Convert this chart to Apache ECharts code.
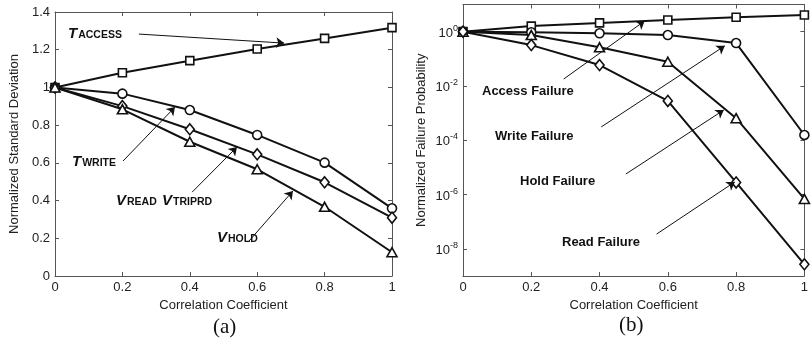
<!DOCTYPE html>
<html>
<head>
<meta charset="utf-8">
<script src="https://cdn.jsdelivr.net/npm/echarts@6/dist/echarts.min.js"></script>
<style>
  html, body { margin: 0; padding: 0; background: #fff; }
  #chart { width: 811px; height: 350px; }
</style>
</head>
<body>
<div id="chart"></div>
<script>
// Correlation coefficient sweep shared by both panels
const rho = [0, 0.2, 0.4, 0.6, 0.8, 1];

// Panel (a): normalized standard deviation
const tAccess = [1.0, 1.078, 1.142, 1.204, 1.260, 1.317];
const tWrite  = [1.0, 0.967, 0.880, 0.748, 0.601, 0.359];
const vTriprd = [1.0, 0.901, 0.778, 0.645, 0.497, 0.309];
const vHold   = [1.0, 0.884, 0.712, 0.566, 0.367, 0.126];

// Panel (b): normalized failure probability
const accessFail = [1.0, 1.6, 2.1, 2.7, 3.4, 4.1];
const writeFail  = [1.0, 0.95, 0.87, 0.75, 0.38, 1.56e-4];
const holdFail   = [1.0, 0.75, 0.265, 0.078, 6.5e-4, 6.9e-7];
const readFail   = [1.0, 0.32, 0.059, 2.8e-3, 2.8e-6, 2.7e-9];

// Tick values
const xTicks = [0, 0.2, 0.4, 0.6, 0.8, 1];
const logTicks = [1e-8, 1e-6, 1e-4, 1e-2, 1];

const FONT = '"Liberation Sans", Arial, sans-serif';
const AXIS_COLOR = '#555';
const TEXT_COLOR = '#222';

const pairs = (ys) => rho.map((x, i) => [x, ys[i]]);

function baseAxis(extra) {
  return Object.assign({
    axisLine: { show: true, onZero: false, lineStyle: { color: AXIS_COLOR, width: 1 } },
    axisTick: { show: true, inside: true, length: 4, lineStyle: { color: AXIS_COLOR } },
    axisLabel: { show: true, color: TEXT_COLOR, fontFamily: FONT, fontSize: 13, margin: 5 },
    splitLine: { show: false },
    nameTextStyle: { color: TEXT_COLOR, fontFamily: FONT, fontSize: 13 }
  }, extra);
}

function xAxisFor(grid, pos, labels) {
  const a = baseAxis({
    type: 'value', gridIndex: grid, position: pos, min: 0, max: 1, interval: 0.2
  });
  if (!labels) {
    a.axisLabel = { show: false };
  } else {
    a.name = 'Correlation Coefficient';
    a.nameLocation = 'middle';
    a.nameGap = 19;
  }
  return a;
}

function lineSeries(ys, symbol, size, xi, yi, extra) {
  return Object.assign({
    type: 'line',
    xAxisIndex: xi,
    yAxisIndex: yi,
    data: pairs(ys),
    symbol: symbol,
    symbolSize: size,
    showAllSymbol: true,
    lineStyle: { color: '#111', width: 2 },
    itemStyle: { color: '#fff', borderColor: '#111', borderWidth: 1.6 },
    emphasis: { disabled: true },
    animation: false,
    z: 3
  }, extra || {});
}

function arrow(from, to) {
  return [{ coord: from }, { coord: to }];
}

function arrowMarks(list) {
  return {
    silent: true,
    symbol: ['none', 'arrow'],
    symbolSize: 8,
    label: { show: false },
    lineStyle: { color: '#111', width: 1, type: 'solid' },
    itemStyle: { color: '#111' },
    emphasis: { disabled: true },
    data: list
  };
}

const chart = echarts.init(document.getElementById('chart'), null, { renderer: 'canvas' });

const supRich = {
  b: { fontFamily: FONT, fontSize: 13, color: TEXT_COLOR, verticalAlign: 'bottom', lineHeight: 16 },
  e: { fontFamily: FONT, fontSize: 9, color: TEXT_COLOR, verticalAlign: 'top', lineHeight: 16, padding: [0, 0, 9, 0] }
};

function subLabel(x, y, main, sub) {
  return {
    type: 'text', left: x, top: y, z: 10,
    style: {
      text: '{m|' + main + '}{s|' + sub + '}',
      rich: {
        m: { fontFamily: FONT, fontSize: 15, fontStyle: 'italic', fontWeight: 'bold', fill: '#111', verticalAlign: 'bottom' },
        s: { fontFamily: FONT, fontSize: 10.5, fontWeight: 'bold', fill: '#111', verticalAlign: 'bottom', padding: [0, 0, 0, 1] }
      }
    }
  };
}

function boldLabel(x, y, text) {
  return {
    type: 'text', left: x, top: y, z: 10,
    style: { text: text, fontFamily: FONT, fontSize: 13, fontWeight: 'bold', fill: '#111' }
  };
}

const option = {
  backgroundColor: '#fff',
  animation: false,
  grid: [
    { left: 55, top: 12, width: 337, height: 264, containLabel: false },
    { left: 463, top: 4.5, width: 345, height: 271.5, containLabel: false }
  ],
  xAxis: [
    xAxisFor(0, 'bottom', true),
    xAxisFor(0, 'top', false),
    xAxisFor(1, 'bottom', true),
    xAxisFor(1, 'top', false)
  ],
  yAxis: [
    baseAxis({
      type: 'value', gridIndex: 0, position: 'left', min: 0, max: 1.4, interval: 0.2,
      name: 'Normalized Standard Deviation', nameLocation: 'middle', nameGap: 34
    }),
    baseAxis({
      type: 'value', gridIndex: 0, position: 'right', min: 0, max: 1.4, interval: 0.2,
      axisLabel: { show: false }
    }),
    baseAxis({
      type: 'log', logBase: 10, gridIndex: 1, position: 'left', min: 1e-9, max: 10,
      name: 'Normalized Failure Probability', nameLocation: 'middle', nameGap: 35,
      axisTick: { show: true, inside: true, length: 4, lineStyle: { color: AXIS_COLOR }, customValues: logTicks },
      axisLabel: {
        show: true, margin: 5, customValues: logTicks,
        formatter: (v) => '{b|10}{e|' + Math.round(Math.log10(v)) + '}',
        rich: supRich
      }
    }),
    baseAxis({
      type: 'log', logBase: 10, gridIndex: 1, position: 'right', min: 1e-9, max: 10,
      axisTick: { show: true, inside: true, length: 4, lineStyle: { color: AXIS_COLOR }, customValues: logTicks },
      axisLabel: { show: false }
    })
  ],
  series: [
    // Panel (a)
    lineSeries(tAccess, 'rect', 8, 0, 0, {
      markLine: arrowMarks([arrow([0.249, 1.283], [0.680, 1.235])])
    }),
    lineSeries(tWrite, 'circle', 9, 0, 0, {
      markLine: arrowMarks([arrow([0.202, 0.610], [0.356, 0.896])])
    }),
    lineSeries(vTriprd, 'diamond', [9, 11], 0, 0, {
      markLine: arrowMarks([arrow([0.407, 0.445], [0.540, 0.684])])
    }),
    lineSeries(vHold, 'triangle', [10, 9], 0, 0, {
      markLine: arrowMarks([arrow([0.573, 0.180], [0.706, 0.451])])
    }),
    // Panel (b)
    lineSeries(accessFail, 'rect', 8, 2, 2, {
      markLine: arrowMarks([arrow([0.295, 1.8e-2], [0.532, 2.47])])
    }),
    lineSeries(writeFail, 'circle', 9, 2, 2, {
      markLine: arrowMarks([arrow([0.405, 3.1e-4], [0.767, 0.30])])
    }),
    lineSeries(holdFail, 'triangle', [10, 9], 2, 2, {
      markLine: arrowMarks([arrow([0.477, 5.7e-6], [0.764, 1.3e-3])])
    }),
    lineSeries(readFail, 'diamond', [9, 11], 2, 2, {
      markLine: arrowMarks([arrow([0.567, 3.5e-8], [0.796, 2.9e-6])])
    })
  ],
  graphic: [
    subLabel(68, 26, 'T', 'ACCESS'),
    subLabel(72, 154, 'T', 'WRITE'),
    subLabel(116, 193, 'V', 'READ'),
    subLabel(162, 193, 'V', 'TRIPRD'),
    subLabel(217, 230, 'V', 'HOLD'),
    boldLabel(482, 85, 'Access Failure'),
    boldLabel(495, 130, 'Write Failure'),
    boldLabel(520, 175, 'Hold Failure'),
    boldLabel(562, 236, 'Read Failure'),
    {
      type: 'text', left: 213, top: 317, z: 10,
      style: { text: '(a)', fontFamily: '"Liberation Serif", "Times New Roman", serif', fontSize: 21, fill: '#111' }
    },
    {
      type: 'text', left: 619, top: 315, z: 10,
      style: { text: '(b)', fontFamily: '"Liberation Serif", "Times New Roman", serif', fontSize: 21, fill: '#111' }
    }
  ]
};

chart.setOption(option);
</script>
</body>
</html>
